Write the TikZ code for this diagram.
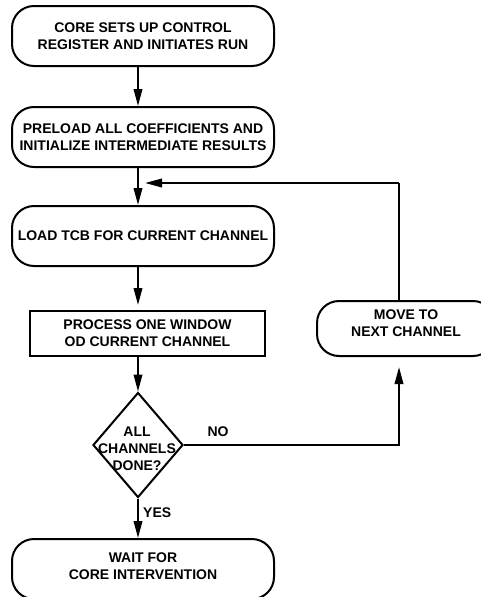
\documentclass[tikz,border=0pt]{standalone}
\usepackage{fontspec}
\setmainfont{Liberation Sans}
\usetikzlibrary{shapes.geometric,arrows.meta,calc}
\begin{document}
\begin{tikzpicture}[x=1pt,y=-1pt,
  every node/.style={font=\bfseries\fontsize{14}{16.8}\selectfont, align=center, inner sep=0pt},
  roundbox/.style={draw, line width=2pt, rounded corners=22pt, minimum width=262pt, minimum height=60pt},
  rectbox/.style={draw, line width=2pt, minimum width=235pt, minimum height=45pt},
  decision/.style={draw, line width=2pt, diamond, minimum width=90pt, minimum height=105pt},
  conn/.style={line width=2pt, -{Triangle[length=17pt,width=8.5pt]}},
  plain/.style={line width=2pt}]
\clip (0,0) rectangle (481,597);
\useasboundingbox (0,0) rectangle (481,597);
\node[roundbox] (b1) at (143,36) {CORE SETS UP CONTROL\\REGISTER AND INITIATES RUN};
\node[roundbox] (b2) at (143,137) {PRELOAD ALL COEFFICIENTS AND\\INITIALIZE INTERMEDIATE RESULTS};
\node[roundbox] (b3) at (143,236) {LOAD TCB FOR CURRENT CHANNEL};
\node[rectbox] (b4) at (147.5,333.5) {PROCESS ONE WINDOW\\OD CURRENT CHANNEL};
\node[decision] (dia) at (138,445) {};
\node (dtext) at (137,449) {ALL\\CHANNELS\\DONE?};
\node[roundbox] (b5) at (143,569) {};
\node (b5t) at (143,566.5) {WAIT FOR\\CORE INTERVENTION};
\node[roundbox, minimum width=178pt, minimum height=55pt] (mv) at (406,328.5) {};
\node (mvt) at (406,323.5) {MOVE TO\\NEXT CHANNEL};
\coordinate (turn) at (399,183);
\coordinate (corner) at (399,445);
\node (no) at (218,432) {NO};
\node[anchor=west] (yes) at (143,513) {YES};
% connectors
\draw[conn] (b1.south -| dia.north) -- (b2.north -| dia.north);
\draw[conn] (b2.south -| dia.north) -- (b3.north -| dia.north);
\draw[conn, shorten >=5pt] (b3.south -| dia.north) -- (b4.north -| dia.north);
\draw[conn] (b4.south -| dia.north) -- (dia.north);
\draw[conn] (dia.south) -- (b5.north -| dia.south);
\draw[conn, shorten >=10pt] (dia.east) -- (corner) -- (mv.south -| corner);
\draw[plain] (mv.north -| turn) -- (turn);
\draw[conn, shorten >=7pt] (turn) -- (turn -| dia.north);
\end{tikzpicture}
\end{document}
